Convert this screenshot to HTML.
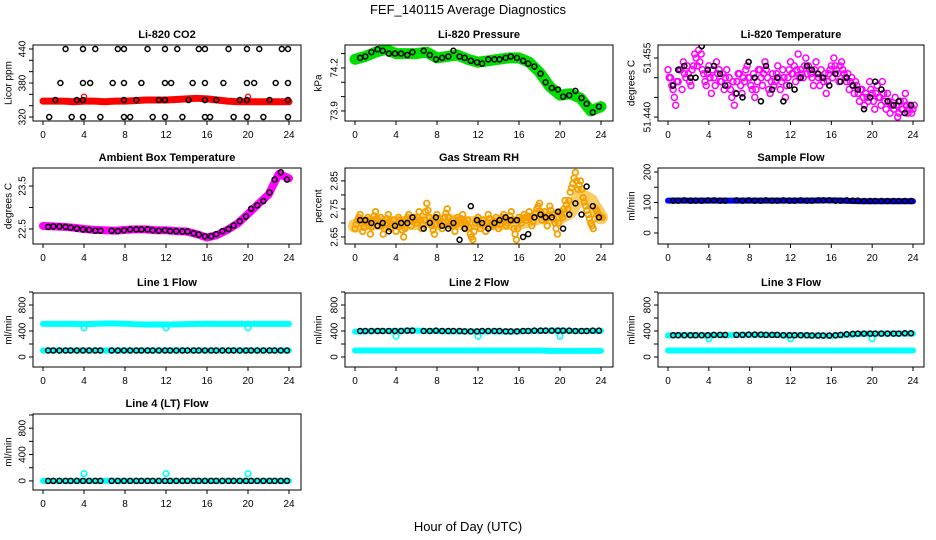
<!DOCTYPE html>
<html><head><meta charset="utf-8"><style>
body{margin:0;background:#fff;}
svg{display:block;font-family:"Liberation Sans",sans-serif;}
</style></head><body>
<svg id="chart" width="936" height="540" viewBox="0 0 936 540" xmlns="http://www.w3.org/2000/svg">
<text x="468" y="14" text-anchor="middle" font-size="13">FEF_140115  Average Diagnostics</text>
<text x="468" y="531" text-anchor="middle" font-size="13">Hour of Day (UTC)</text>
</svg>
<script>
const hours=[0,1,2,3,4,5,6,7,8,9,10,11,12,13,14,15,16,17,18,19,20,21,22,23,24];
const bt=[0.5,1.0,1.6,2.2,2.7,3.3,3.9,4.5,5.1,5.6,6.7,7.3,7.9,8.5,9.1,9.6,10.2,10.7,11.3,11.9,12.4,13.0,13.6,14.1,14.7,15.2,15.8,16.4,16.9,17.5,18.1,18.6,19.2,19.8,20.3,20.9,21.5,22.1,22.6,23.2,23.8];
const outT=[4,12,20];
// CO2
const co2Band=[348,348,348,347,348,348,347,348,348,349,350,350,350,351,352,353,352,350,348,347,347,347,347,347,347];
const co2Times=[2.2,3.9,5.1,7.3,7.9,10.2,11.9,13.1,15.2,15.8,18.1,19.9,21.1,23.3,23.9,1.7,3.9,4.6,6.8,7.9,9.6,11.9,12.5,14.6,15.8,17.6,19.9,20.6,22.7,23.9,1.2,3.3,3.9,7.9,9.1,11.3,11.9,14.2,15.8,16.9,19.2,19.9,22.1,23.9,0.6,2.8,3.9,5.6,7.9,8.5,10.7,11.9,13.6,15.8,16.3,18.6,19.9,21.5,23.9];
const co2Vals=[440,440,440,440,440,440,440,440,440,440,440,440,440,440,440,380,380,380,380,380,380,380,380,380,380,380,380,380,380,380,350,350,350,350,350,350,350,350,350,350,350,350,350,350,320,320,320,320,320,320,320,320,320,320,320,320,320,320,320];
const co2RedOut=[[4,356],[20,356]];
// Pressure
const presBand=[74.26,74.28,74.31,74.33,74.30,74.30,74.30,74.31,74.27,74.28,74.29,74.26,74.24,74.25,74.26,74.27,74.27,74.24,74.17,74.07,74.01,74.02,73.99,73.90,73.93];
const presBlack=[74.27,74.28,74.31,74.33,74.32,74.30,74.30,74.30,74.29,74.31,74.32,74.29,74.26,74.27,74.28,74.32,74.28,74.27,74.25,74.24,74.23,74.26,74.26,74.26,74.27,74.28,74.27,74.25,74.23,74.21,74.16,74.10,74.06,74.05,74.00,74.01,74.04,73.99,73.95,73.89,73.93];
// Li-820 temperature
const ltCloud=[51.452,51.450,51.447,51.443,51.449,51.452,51.454,51.450,51.451,51.448,51.453,51.455,51.457,51.456,51.451,51.448,51.453,51.446,51.450,51.454,51.452,51.449,51.447,51.452,51.450,51.445,51.443,51.449,51.451,51.446,51.449,51.453,51.450,51.447,51.445,51.449,51.452,51.448,51.454,51.450,51.446,51.451,51.449,51.453,51.447,51.452,51.445,51.450,51.454,51.451,51.449,51.456,51.452,51.450,51.455,51.453,51.451,51.448,51.454,51.450,51.452,51.449,51.446,51.451,51.453,51.455,51.452,51.449,51.454,51.451,51.449,51.447,51.450,51.446,51.448,51.444,51.447,51.443,51.445,51.449,51.446,51.442,51.448,51.445,51.449,51.444,51.446,51.441,51.443,51.445,51.440,51.444,51.442,51.446,51.441,51.443,51.442];
const ltCloud2=[51.450,51.448,51.445,51.449,51.452,51.447,51.451,51.453,51.449,51.452,51.456,51.453,51.454,51.452,51.449,51.451,51.450,51.452,51.448,51.451,51.449,51.451,51.450,51.448,51.447,51.449,51.446,51.451,51.448,51.450,51.452,51.450,51.448,51.451,51.447,51.452,51.450,51.451,51.452,51.447,51.449,51.448,51.451,51.450,51.449,51.450,51.448,51.452,51.451,51.453,51.452,51.450,51.451,51.453,51.451,51.452,51.450,51.452,51.451,51.448,51.450,51.451,51.449,51.452,51.450,51.453,51.451,51.453,51.452,51.450,51.451,51.449,51.448,51.449,51.446,51.447,51.445,51.446,51.444,51.447,51.444,51.446,51.445,51.443,51.446,51.442,51.444,51.443,51.442,51.443,51.441,51.442,51.444,51.443,51.442,51.441,51.443];
const ltBlack=[51.448,51.452,51.453,51.450,51.450,51.458,51.452,51.453,51.451,51.448,51.446,51.445,51.454,51.450,51.444,51.453,51.447,51.450,51.444,51.448,51.447,51.450,51.453,51.452,51.451,51.450,51.448,51.451,51.449,51.450,51.448,51.447,51.442,51.445,51.449,51.447,51.444,51.443,51.444,51.441,51.443];
// Ambient box temperature
const ambBand=[22.57,22.56,22.55,22.53,22.50,22.48,22.47,22.46,22.48,22.49,22.49,22.47,22.47,22.45,22.44,22.38,22.30,22.36,22.48,22.63,22.85,23.08,23.30,23.78,23.68];
const ambBlack=[22.55,22.56,22.56,22.55,22.53,22.51,22.49,22.48,22.46,22.46,22.46,22.45,22.47,22.49,22.49,22.49,22.49,22.47,22.46,22.47,22.45,22.45,22.44,22.44,22.40,22.37,22.33,22.33,22.38,22.45,22.50,22.58,22.68,22.79,22.97,23.05,23.15,23.35,23.65,23.82,23.65];
// Gas stream RH
const rhMean=[2.69,2.70,2.70,2.70,2.70,2.70,2.70,2.71,2.70,2.71,2.70,2.70,2.70,2.70,2.70,2.70,2.70,2.71,2.72,2.72,2.72,2.74,2.80,2.78,2.72];
const rhCloud=[2.68,2.71,2.73,2.67,2.70,2.72,2.66,2.71,2.74,2.69,2.72,2.66,2.70,2.73,2.68,2.71,2.67,2.72,2.70,2.65,2.71,2.73,2.69,2.72,2.70,2.74,2.68,2.71,2.77,2.72,2.69,2.66,2.73,2.70,2.68,2.72,2.75,2.69,2.71,2.67,2.72,2.70,2.73,2.68,2.71,2.66,2.64,2.70,2.72,2.68,2.71,2.67,2.73,2.70,2.69,2.72,2.68,2.71,2.73,2.69,2.71,2.74,2.68,2.64,2.72,2.70,2.73,2.71,2.74,2.69,2.72,2.75,2.77,2.71,2.74,2.69,2.76,2.73,2.70,2.66,2.74,2.72,2.78,2.75,2.81,2.84,2.88,2.82,2.85,2.79,2.76,2.73,2.70,2.68,2.75,2.73,2.72];
const rhBlack=[2.71,2.71,2.70,2.69,2.70,2.67,2.69,2.70,2.70,2.72,2.68,2.70,2.72,2.69,2.68,2.70,2.64,2.68,2.76,2.71,2.70,2.68,2.70,2.71,2.72,2.71,2.71,2.65,2.66,2.72,2.73,2.72,2.72,2.74,2.68,2.73,2.77,2.73,2.83,2.76,2.72];
// Sample flow
const sfBand=[106,106,106,106,106,106,106,106,106,106,106,106,106,106,106,107,107,106,105,104,104,104,104,104,104];
const sfBlack=[106,106,107,106,106,106,107,107,106,106,107,106,107,106,106,107,106,106,107,106,106,107,106,106,107,107,107,106,106,107,106,106,105,105,105,105,105,105,105,105,105];
// Flows
const l1Hi=[510,510,510,510,505,510,515,515,512,505,500,502,500,502,505,510,512,510,510,510,510,510,510,510,510];
const l1Lo=[100,100,100,100,100,100,100,100,100,100,100,100,100,100,100,100,100,100,100,100,100,100,100,100,100];
const l1Black=[100,100,100,100,100,100,100,100,100,100,100,100,100,100,100,100,100,100,100,100,100,100,100,100,100,100,100,100,100,100,100,100,100,100,100,100,100,100,100,100,100];
const l1Out=[450,450,450];
const l2Hi=[390,395,400,400,400,405,405,400,400,395,395,395,390,395,395,390,395,400,400,405,405,400,400,400,400];
const l2Lo=[100,100,100,100,100,100,100,100,100,100,100,100,100,100,100,100,100,100,100,95,95,95,95,95,95];
const l2Black=[400,400,400,400,400,400,400,400,405,405,400,400,405,400,400,400,400,395,395,395,400,400,400,400,395,395,395,400,400,405,405,405,405,405,405,405,400,400,400,405,405];
const l2Out=[320,320,320];
const l3Hi=[330,335,335,335,335,335,335,340,340,340,340,335,335,335,330,330,325,335,345,355,360,360,360,360,360];
const l3Lo=[100,100,100,100,100,100,100,100,100,100,100,100,100,100,100,100,100,100,100,100,100,100,100,100,100];
const l3Black=[335,335,335,335,335,335,335,340,340,340,340,340,345,345,345,340,340,340,335,335,335,335,335,330,330,330,330,335,340,350,355,360,360,360,360,360,360,360,360,365,365];
const l3Out=[280,280,280];
const l4Hi=[0,0,0,0,0,0,0,0,0,0,0,0,0,0,0,0,0,0,0,0,0,0,0,0,0];
const l4Black=[0,0,0,0,0,0,0,0,0,0,0,0,0,0,0,0,0,0,0,0,0,0,0,0,0,0,0,0,0,0,0,0,0,0,0,0,0,0,0,0,0];
const l4Out=[110,110,110];
const xTicks=[0,4,8,12,16,20,24];
const cloudStep=0.25;

const svg=document.getElementById('chart');
const NS='http://www.w3.org/2000/svg';
const COLS=[{x0:43,x1:289,bl:33,br:301,lx:23,tx:9},{x0:355,x1:601,bl:345,br:613,lx:335,tx:319},{x0:668,x1:913,bl:658,br:924,lx:648,tx:632}];
const ROWS=[{t:45,b:121},{t:168,b:244},{t:293,b:367},{t:414,b:490}];
function mk(tag,attrs,parent){const e=document.createElementNS(NS,tag);for(const k in attrs)e.setAttribute(k,attrs[k]);(parent||svg).appendChild(e);return e;}

function panel(name,ci,ri,yMin,yMax,title,ylab,yt,ylabels){
  const c=COLS[ci],r=ROWS[ri];
  const g=mk('g',{});
  
  
  const sx=v=>c.x0+(v/24)*(c.x1-c.x0);
  const sy=v=>r.b-(v-yMin)/(yMax-yMin)*(r.b-r.t);
  const t=mk('text',{x:(c.bl+c.br)/2,y:r.t-7,'text-anchor':'middle','font-size':'11','font-weight':'bold'},g);
  t.textContent=title;
  
  
  const yl=mk('text',{x:c.tx,y:(r.t+r.b)/2,'text-anchor':'middle','font-size':'10',transform:`rotate(-90 ${c.tx} ${(r.t+r.b)/2})`,'dominant-baseline':'middle'},g);
  yl.textContent=ylab;
  
  
  xTicks.forEach(v=>{
    const x=sx(v);
    mk('line',{x1:x,x2:x,y1:r.b,y2:r.b+4,stroke:'#000','stroke-width':1},g);
    const tx=mk('text',{x:x,y:r.b+17,'text-anchor':'middle','font-size':'10'},g);
    tx.textContent=v;
    
    
  });
  yt.forEach((v,i)=>{
    const y=sy(v);
    mk('line',{x1:c.bl-4,x2:c.bl,y1:y,y2:y,stroke:'#000','stroke-width':1},g);
    if(ylabels[i]){
      const tx=mk('text',{x:c.lx,y:y,'text-anchor':'middle','font-size':'10','dominant-baseline':'middle',transform:`rotate(-90 ${c.lx} ${y})`},g);
      tx.textContent=ylabels[i];
      
      
    }
  });
  const clip='clip'+name;
  const cp=mk('clipPath',{id:clip},g);
  mk('rect',{x:c.bl,y:r.t,width:c.br-c.bl,height:r.b-r.t},cp);
  const plot=mk('g',{'clip-path':`url(#${clip})`},g);
  const box=mk('rect',{x:c.bl,y:r.t,width:c.br-c.bl,height:r.b-r.t,fill:'none',stroke:'#000','stroke-width':1});
  
  
  return {sx,sy,plot,box};
}
function band(p,xs,ys,color,w,name,op){
  const pts=xs.map((x,i)=>p.sx(x)+','+p.sy(ys[i])).join(' ');
  const l=mk('polyline',{points:pts,fill:'none',stroke:color,'stroke-width':w,'stroke-linejoin':'round','stroke-linecap':'round','stroke-opacity':op||1},p.plot);
  
  
}
function pts(p,xs,ys,color,r,sw,name){
  xs.forEach((x,i)=>{
    const e=mk('circle',{cx:p.sx(x),cy:p.sy(ys[i]),r:r,fill:'none',stroke:color,'stroke-width':sw},p.plot);
    
    
  });
}
const cloudT=ltCloud.map((v,i)=>i*cloudStep);
const cloudT2=ltCloud2.map((v,i)=>i*cloudStep+0.12);
const rhT=rhCloud.map((v,i)=>i*cloudStep);

// CO2
let p=panel('co2',0,0,313,447,'Li-820 CO2','Licor ppm',[320,340,360,380,400,420,440],['320','','','380','','','440']);
band(p,hours,co2Band,'#ff0000',7,'co2-red-band');
pts(p,co2RedOut.map(d=>d[0]),co2RedOut.map(d=>d[1]),'#ff0000',2.5,1.3,'co2-red-point');
pts(p,co2Times,co2Vals,'#000',2.5,1.5,'co2-black-point');
// Pressure
p=panel('pressure',1,0,73.83,74.36,'Li-820 Pressure','kPa',[73.9,74.0,74.1,74.2,74.3],['73.9','','','74.2','']);
band(p,hours,presBand,'#00dd00',11,'pressure-green-band');
pts(p,bt,presBlack,'#000',2.5,1.5,'pressure-black-point');
// Li temp
p=panel('li820-temp',2,0,51.439,51.4583,'Li-820 Temperature','degrees C',[51.440,51.445,51.450,51.455],['51.440','','','51.455']);
pts(p,cloudT,ltCloud,'#ff00ff',3,1.5,'temp-magenta-point');
pts(p,cloudT2,ltCloud2,'#ff00ff',3,1.5,'temp-magenta-point');
pts(p,bt,ltBlack,'#000',2.5,1.6,'temp-black-point');
// Ambient
p=panel('ambient',0,1,22.15,23.92,'Ambient Box Temperature','degrees C',[22.5,23.0,23.5],['22.5','','23.5']);
band(p,hours,ambBand,'#ff00ff',8,'ambient-magenta-band');
pts(p,bt,ambBlack,'#000',2.5,1.5,'ambient-black-point');
// RH
p=panel('rh',1,1,2.625,2.896,'Gas Stream RH','percent',[2.65,2.70,2.75,2.80,2.85],['2.65','','2.75','','2.85']);
band(p,hours,rhMean,'#f8c040',14,'rh-orange-band',0.8);
pts(p,rhT,rhCloud,'#f5a000',2.8,1.8,'rh-orange-point');
pts(p,rhT.map(t=>t+0.12),rhCloud.map((v,i)=>(v+rhCloud[Math.min(i+1,rhCloud.length-1)])/2),'#f5a000',2.8,1.8,'rh-orange-point');
pts(p,bt,rhBlack,'#000',2.5,1.5,'rh-black-point');
// Sample flow
p=panel('sample-flow',2,1,-36,213,'Sample Flow','ml/min',[0,50,100,150,200],['0','','100','','200']);
band(p,hours,sfBand,'#0000ff',6,'sample-blue-band');
pts(p,bt,sfBlack,'#000',2.5,1.5,'sample-black-point');
// Flows
function flow(name,ci,ri,title,yMin,yMax,hi,lo,black,out){
  const q=panel(name,ci,ri,yMin,yMax,title,'ml/min',[0,200,400,600,800,1000],['0','','400','','800','']);
  band(q,hours,hi,'#00ffff',6,name+'-cyan-band');
  if(lo)band(q,hours,lo,'#00ffff',6,name+'-cyan-low-band');
  pts(q,outT,out,'#00ffff',2.8,1.6,name+'-cyan-outlier');
  pts(q,bt,black,'#000',2.5,1.5,name+'-black-point');
}
flow('line1-flow',0,2,'Line 1 Flow',-154,985,l1Hi,l1Lo,l1Black,l1Out);
flow('line2-flow',1,2,'Line 2 Flow',-154,985,l2Hi,l2Lo,l2Black,l2Out);
flow('line3-flow',2,2,'Line 3 Flow',-154,985,l3Hi,l3Lo,l3Black,l3Out);
flow('line4-flow',0,3,'Line 4 (LT) Flow',-138,1015,l4Hi,null,l4Black,l4Out);
</script>
</body></html>
